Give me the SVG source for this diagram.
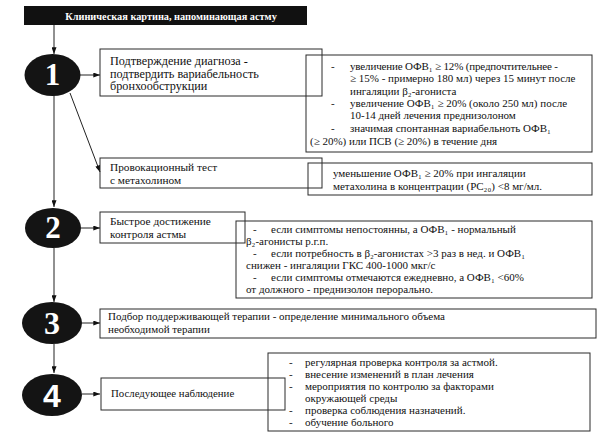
<svg xmlns="http://www.w3.org/2000/svg" width="600" height="443" viewBox="0 0 600 443">
<defs>
<marker id="ah" viewBox="0 0 8 6" refX="8" refY="3" markerWidth="7" markerHeight="5" orient="auto" markerUnits="userSpaceOnUse"><path d="M0,0 L8,3 L0,6 z" fill="#111"/></marker>
<style>
.bx{fill:none;stroke:#2a2a2a;stroke-width:1}
.el{fill:#141414}
.num{font-family:"Liberation Serif",serif;font-weight:bold;font-size:31px;fill:#fff;text-anchor:middle}
.t{font-family:"Liberation Serif",serif;font-size:11.3px;fill:#111}
.b1{font-size:12.2px}
.d{font-family:"Liberation Serif",serif;font-size:11px;fill:#111}
.cn{fill:none;stroke:#222;stroke-width:1;marker-end:url(#ah)}
</style>
</defs>
<rect width="600" height="443" fill="#fff"/>
<g id="header">
<rect x="24" y="6" width="283" height="19" fill="#111"/>
<text x="171" y="19.5" style="font-family:'Liberation Serif',serif;font-weight:bold;font-size:10.3px;fill:#fff;text-anchor:middle">Клиническая картина, напоминающая астму</text>
</g>
<g id="connectors">
<path class="cn" d="M54,25 V54"/>
<path class="cn" d="M80,75 H100"/>
<path class="cn" d="M70,93 L100,172"/>
<path class="cn" d="M54,95 V207"/>
<path class="cn" d="M81,228 H100"/>
<path class="cn" d="M54,248 V302"/>
<path class="cn" d="M82,323 H100"/>
<path class="cn" d="M54,344 V373"/>
<path class="cn" d="M82,394 H100"/>
</g>
<g id="step1">
<ellipse class="el" cx="52.5" cy="75" rx="28" ry="21"/>
<text class="num" x="52.5" y="85">1</text>
</g>
<g id="box1">
<rect class="bx" x="100" y="49" width="222" height="47"/>
<text class="t b1" x="110" y="65">Подтверждение диагноза -</text>
<text class="t b1" x="110" y="77.5">подтвердить вариабельность</text>
<text class="t b1" x="110" y="90">бронхообструкции</text>
</g>
<g id="detail1">
<rect class="bx" x="306" y="55" width="286" height="97"/>
<text class="d" x="331" y="70">-</text>
<text class="d" x="350" y="70" textLength="208" lengthAdjust="spacing">увеличение ОФВ₁ ≥ 12% (предпочтительнее -</text>
<text class="d" x="350" y="82">≥ 15% - примерно 180 мл) через 15 минут после</text>
<text class="d" x="350" y="95">ингаляции β₂-агониста</text>
<text class="d" x="331" y="107">-</text>
<text class="d" x="350" y="107">увеличение ОФВ₁ ≥ 20% (около 250 мл) после</text>
<text class="d" x="350" y="119">10-14 дней лечения преднизолоном</text>
<text class="d" x="331" y="132">-</text>
<text class="d" x="350" y="132">значимая спонтанная вариабельноть ОФВ₁</text>
<text class="d" x="310" y="145">(≥ 20%) или ПСВ (≥ 20%) в течение дня</text>
</g>
<g id="box-prov">
<rect class="bx" x="100" y="158" width="222" height="30"/>
<text class="t" x="110" y="171">Провокационный тест</text>
<text class="t" x="110" y="184">с метахолином</text>
</g>
<g id="detail-prov">
<rect class="bx" x="308" y="163" width="284" height="32"/>
<text class="d" x="333" y="177">уменьшение ОФВ₁ ≥ 20% при ингаляции</text>
<text class="d" x="333" y="190">метахолина в концентрации (PC₂₀) &lt;8 мг/мл.</text>
</g>
<g id="step2">
<ellipse class="el" cx="53" cy="228" rx="28" ry="20"/>
<text class="num" x="53" y="238">2</text>
</g>
<g id="box2">
<rect class="bx" x="100" y="212" width="145" height="31"/>
<text class="t" x="110" y="225">Быстрое достижение</text>
<text class="t" x="110" y="238">контроля астмы</text>
</g>
<g id="detail2">
<rect class="bx" x="236" y="221" width="356" height="77"/>
<text class="d" x="253" y="233">-</text>
<text class="d" x="271" y="233">если симптомы непостоянны, а ОФВ₁ - нормальный</text>
<text class="d" x="246" y="245">β₂-агонисты р.г.п.</text>
<text class="d" x="253" y="257">-</text>
<text class="d" x="271" y="257">если потребность в β₂-агонистах &gt;3 раз в нед. и ОФВ₁</text>
<text class="d" x="246" y="269">снижен - ингаляции ГКС 400-1000 мкг/с</text>
<text class="d" x="253" y="281">-</text>
<text class="d" x="271" y="281">если симптомы отмечаются ежедневно, а ОФВ₁ &lt;60%</text>
<text class="d" x="246" y="293">от должного - преднизолон перорально.</text>
</g>
<g id="step3">
<ellipse class="el" cx="52" cy="323" rx="30" ry="21"/>
<text class="num" x="52" y="334" style="font-size:32px">3</text>
</g>
<g id="box3">
<rect class="bx" x="100" y="309" width="496" height="29"/>
<text class="t" x="108" y="320" style="font-size:11px">Подбор поддерживающей терапии - определение минимального объема</text>
<text class="t" x="108" y="333" style="font-size:11px">необходимой терапии</text>
</g>
<g id="step4">
<ellipse class="el" cx="52" cy="395" rx="30" ry="21"/>
<text class="num" x="52" y="407" style="font-family:'Liberation Sans',sans-serif;font-size:32px">4</text>
</g>
<g id="box4">
<rect class="bx" x="101" y="378" width="184" height="32"/>
<text class="t" x="111" y="397" style="font-size:10.8px">Последующее наблюдение</text>
</g>
<g id="detail4">
<rect class="bx" x="268" y="353" width="322" height="78"/>
<text class="d" x="289" y="366">-</text>
<text class="d" x="305" y="366">регулярная проверка контроля за астмой.</text>
<text class="d" x="289" y="378">-</text>
<text class="d" x="305" y="378">внесение изменений в план лечения</text>
<text class="d" x="289" y="390">-</text>
<text class="d" x="305" y="390">мероприятия по контролю за факторами</text>
<text class="d" x="305" y="402">окружающей среды</text>
<text class="d" x="289" y="414">-</text>
<text class="d" x="305" y="414">проверка соблюдения назначений.</text>
<text class="d" x="289" y="426">-</text>
<text class="d" x="305" y="426">обучение больного</text>
</g>
</svg>
